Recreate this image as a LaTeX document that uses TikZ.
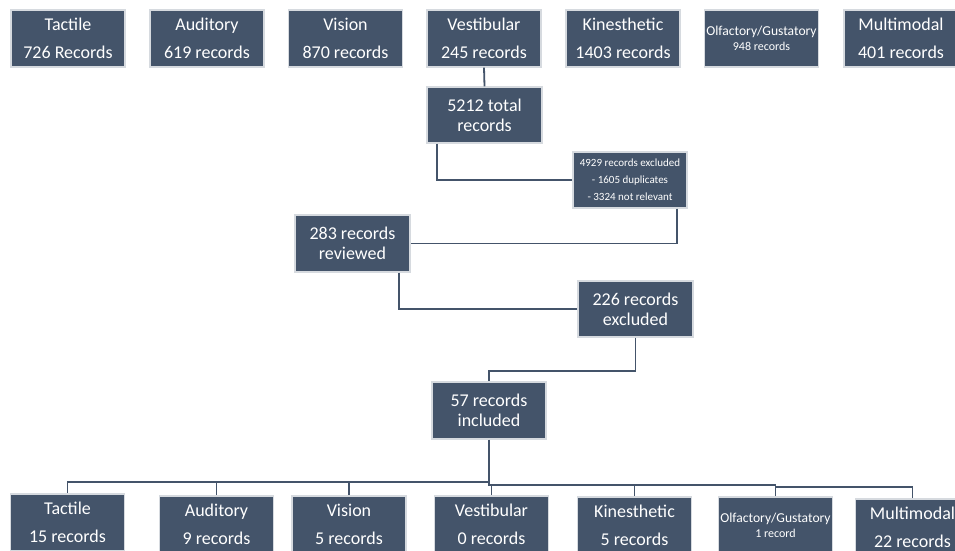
\documentclass[tikz,border=0pt]{standalone}
\usepackage{fontspec}
\setmainfont{Carlito}
\usetikzlibrary{calc}
\definecolor{boxc}{HTML}{44546A}
\definecolor{bordc}{HTML}{D6DADF}
\tikzset{
  base/.style={fill=boxc, draw=bordc, line width=1.3pt, text=white, align=center, inner sep=0pt, anchor=center},
  catbox/.style={base, minimum width=114pt, minimum height=57pt, font=\fontsize{18}{28}\selectfont},
  smallcat/.style={base, minimum width=114pt, minimum height=57pt, font=\fontsize{12}{15}\selectfont},
  flowbox/.style={base, minimum width=115pt, minimum height=56pt, font=\fontsize{18}{20}\selectfont},
  exclbox/.style={base, minimum width=114pt, minimum height=56pt, font=\fontsize{11}{17}\selectfont},
  conn/.style={draw=boxc, line width=1.8pt}
}
\newcommand{\olfline}{{\fontsize{13.6}{15}\selectfont Olfactory/Gustatory}}
\begin{document}
\begin{tikzpicture}[x=1pt,y=-1pt]
\useasboundingbox[fill=white] (0,0) rectangle (955,551);
\clip (0,0) rectangle (955,551);
% top row
\node[catbox] (t1) at (68,38.5) {Tactile\\726 Records};
\node[catbox] (t2) at (207,38.5) {Auditory\\619 records};
\node[catbox] (t3) at (345.5,38.5) {Vision\\870 records};
\node[catbox] (t4) at (484,38.5) {Vestibular\\245 records};
\node[catbox] (t5) at (623,38.5) {Kinesthetic\\1403 records};
\node[smallcat] (t6) at (761.5,38.5) {\olfline\\948 records};
\node[catbox] (t7) at (901,38.5) {Multimodal\\401 records};
% flow
\node[flowbox] (total) at (484.5,115) {5212 total\\records};
\node[exclbox] (ex1) at (630,180) {4929 records excluded\\- 1605 duplicates\\- 3324 not relevant};
\node[flowbox, minimum height=57pt] (rev) at (352.5,243.5) {283 records\\reviewed};
\node[flowbox] (ex2) at (635.5,309) {226 records\\excluded};
\node[flowbox, minimum width=114pt, minimum height=57pt] (inc) at (489,410.5) {57 records\\included};
% bottom row
\node[catbox] (b1) at (67.5,522.5) {Tactile\\15 records};
\node[catbox] (b2) at (216.5,524.5) {Auditory\\9 records};
\node[catbox] (b3) at (349,524.5) {Vision\\5 records};
\node[catbox] (b4) at (491.5,524.5) {Vestibular\\0 records};
\node[catbox] (b5) at (634.5,525.5) {Kinesthetic\\5 records};
\node[smallcat] (b6) at (775.5,525.5) {\olfline\\1 record};
\node[catbox] (b7) at (912.5,527.5) {Multimodal\\22 records};
% connectors
\draw[conn] (t4.south) -- (total.north);
\draw[conn] ($(total.south west)+(11,0)$) |- (ex1.west);
\draw[conn] ($(ex1.south east)+(-11,0)$) |- (rev.east);
\draw[conn] ($(rev.south east)+(-12,0)$) |- (ex2.west);
\draw[conn] (ex2.south) -- ++(0,33) -| (inc.north);
\coordinate (bL) at (489,482);
\coordinate (bR) at (489,485);
\coordinate (bS) at (776,487);
\draw[conn] (inc.south) -- (bL);
\draw[conn] (bL) -| (b1.north);
\draw[conn] (bL) -| (b2.north);
\draw[conn] (bL) -| (b3.north);
\draw[conn] (bL) -- (bR) -| (b4.north);
\draw[conn] (bR) -| (b5.north);
\draw[conn] (bR) -| (b6.north);
\draw[conn] (bS) -| (b7.north);
\end{tikzpicture}
\end{document}
